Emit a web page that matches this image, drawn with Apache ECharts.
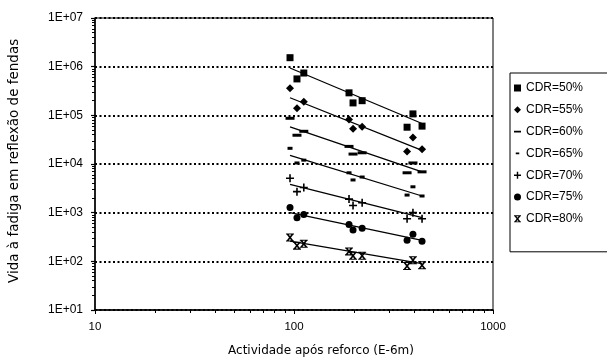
<!DOCTYPE html>
<html>
<head>
<meta charset="utf-8">
<script src="https://cdn.jsdelivr.net/npm/echarts@6/dist/echarts.min.js"></script>
<style>html,body{margin:0;padding:0;background:#fff}#c{width:607px;height:360px}</style>
</head>
<body>
<div id="c"></div>
<script>
// x values (Actividade após reforco, E-6m)
var xs = [95.5, 103.5, 112, 189, 198, 220, 370, 396, 440];
// Vida à fadiga per CDR
var cdr50 = [1.53e6, 5.6e5, 7.4e5, 2.9e5, 1.8e5, 2.0e5, 5.7e4, 1.07e5, 6.0e4];
var cdr55 = [3.6e5, 1.4e5, 1.9e5, 8.2e4, 5.3e4, 5.8e4, 1.8e4, 3.5e4, 2.0e4];
var cdr60 = [8.7e4, 3.9e4, 4.7e4, 2.3e4, 1.6e4, 1.7e4, 6.6e3, 1.05e4, 6.9e3];
var cdr65 = [2.1e4, 1.05e4, 1.2e4, 6.6e3, 4.7e3, 5.4e3, 2.3e3, 3.4e3, 2.2e3];
var cdr70 = [5.1e3, 2.7e3, 3.3e3, 1.9e3, 1.4e3, 1.6e3, 7.5e2, 1.0e3, 7.5e2];
var cdr75 = [1.27e3, 7.9e2, 9.2e2, 5.7e2, 4.4e2, 4.8e2, 2.7e2, 3.6e2, 2.6e2];
var cdr80 = [310, 210, 230, 160, 130, 130, 80, 105, 83];
// trend line end values (at first and last x)
var trendX = [95.5, 440];
var trend50 = [9.4e5, 6.8e4];
var trend55 = [2.3e5, 1.9e4];
var trend60 = [5.8e4, 6.9e3];
var trend65 = [1.5e4, 2.2e3];
var trend70 = [3.8e3, 7.9e2];
var trend75 = [1.0e3, 2.7e2];
var trend80 = [2.6e2, 90];
var names = ['CDR=50%', 'CDR=55%', 'CDR=60%', 'CDR=65%', 'CDR=70%', 'CDR=75%', 'CDR=80%'];
var xTicks = [10, 100, 1000];
var yTicks = [10, 100, 1000, 1e4, 1e5, 1e6, 1e7];

var plusPath = 'path://M4,0h2v4h4v2h-4v4h-2v-4h-4v-2h4z';
var xbarPath = 'path://M0,0h10v1.3h-10z M0,8.7h10v1.3h-10z M0.8,1.3h2.6L9.2,8.7h-2.6z M6.6,1.3h2.6L3.4,8.7h-2.6z';
var longDashIcon = 'path://M0,3.8h10v2.4h-10z M0,0h0.01v0.01h-0.01z M9.99,9.99h0.01v0.01h-0.01z';
var shortDashIcon = 'path://M2.5,3.8h5v2.4h-5z M0,0h0.01v0.01h-0.01z M9.99,9.99h0.01v0.01h-0.01z';

var sets = [cdr50, cdr55, cdr60, cdr65, cdr70, cdr75, cdr80];
var trends = [trend50, trend55, trend60, trend65, trend70, trend75, trend80];
var symbols = ['rect', 'diamond', 'rect', 'rect', plusPath, 'circle', xbarPath];
var sizes = [7, 8, [9, 3], [5, 3], 8, 7, 8];
var icons = ['rect', 'diamond', longDashIcon, shortDashIcon, plusPath, 'circle', xbarPath];

function pair(xa, ya) { return xa.map(function (x, i) { return [x, ya[i]]; }); }

var series = [];
sets.forEach(function (s, i) {
  series.push({
    name: names[i], type: 'scatter', data: pair(xs, s),
    symbol: symbols[i], symbolSize: sizes[i],
    itemStyle: { color: '#000', opacity: 1 }, z: 3
  });
});
trends.forEach(function (t, i) {
  series.push({
    name: 'trend' + i, type: 'line', data: pair(trendX, t),
    symbol: 'none', lineStyle: { color: '#000', width: 1.3 }, z: 2, silent: true
  });
});

var chart = echarts.init(document.getElementById('c'));
chart.setOption({
  animation: false,
  backgroundColor: '#fff',
  textStyle: { fontFamily: 'Liberation Sans' },
  grid: { left: 95, right: 114, top: 18, bottom: 50, show: true, borderColor: '#000', borderWidth: 1 },
  xAxis: {
    type: 'log', logBase: 10, min: xTicks[0], max: xTicks[xTicks.length - 1],
    axisLine: { lineStyle: { color: '#000', width: 1.5 } },
    axisTick: { show: true, length: 4, lineStyle: { color: '#000' } },
    minorTick: { show: true, splitNumber: 9, length: 3, lineStyle: { color: '#000' } },
    splitLine: { show: false },
    axisLabel: { color: '#000', fontSize: 11.5, margin: 11, fontFamily: 'Liberation Sans',
      formatter: function (v) { return String(Math.round(v)); } }
  },
  yAxis: {
    type: 'log', logBase: 10, min: yTicks[0], max: yTicks[yTicks.length - 1],
    axisLine: { lineStyle: { color: '#000', width: 1.5 } },
    axisTick: { show: true, length: 4, lineStyle: { color: '#000', width: 1.2 } },
    minorTick: { show: true, splitNumber: 9, length: 3, lineStyle: { color: '#000' } },
    splitLine: { show: true, lineStyle: { color: '#000', width: 2, type: [2, 2.5] } },
    axisLabel: {
      color: '#000', fontSize: 12, margin: 12, fontFamily: 'Liberation Sans',
      formatter: function (v) {
        var e = Math.round(Math.log10(v));
        return '1E+' + (e < 10 ? '0' + e : e);
      }
    }
  },
  legend: {
    data: names.map(function (n, i) { return { name: n, icon: icons[i] }; }),
    orient: 'vertical', left: 510, top: 73,
    itemWidth: 7, itemHeight: 7, itemGap: 9.8, itemTextGap: 4,
    padding: [9, 30, 27, 4],
    borderColor: '#000', borderWidth: 1,
    textStyle: { color: '#000', fontSize: 12, lineHeight: 12, fontFamily: 'Liberation Sans' },
    itemStyle: { color: '#000' },
    selectedMode: false
  },
  graphic: [
    { type: 'text', x: 321, y: 351, style: { text: 'Actividade após reforco (E-6m)', fill: '#000', font: '12px "DejaVu Sans"', align: 'center', verticalAlign: 'middle' } },
    { type: 'text', x: 14, y: 283, rotation: Math.PI / 2, style: { text: 'Vida à fadiga em reflexão de fendas', fill: '#000', font: '13.5px "DejaVu Sans"', align: 'left', verticalAlign: 'middle' } }
  ],
  series: series
});
</script>
</body>
</html>
